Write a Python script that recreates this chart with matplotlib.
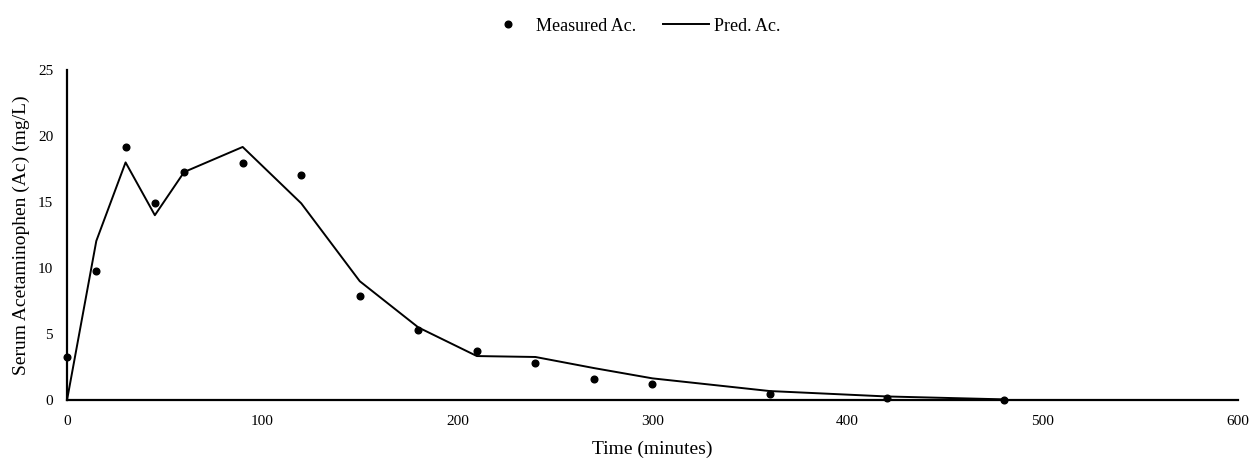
import matplotlib
matplotlib.use("Agg")
import matplotlib.pyplot as plt

time_meas = [0, 15, 30, 45, 60, 90, 120, 150, 180, 210, 240, 270, 300, 360, 420, 480]
ac_meas = [3.26, 9.77, 19.17, 14.9, 17.27, 17.95, 17.05, 7.88, 5.3, 3.7, 2.8, 1.6, 1.2, 0.45, 0.15, 0.0]

time_pred = [0, 15, 30, 45, 60, 90, 120, 150, 180, 210, 240, 270, 300, 360, 420, 480]
ac_pred = [0.0, 12.05, 18.0, 14.0, 17.27, 19.17, 14.9, 9.0, 5.5, 3.33, 3.26, 2.42, 1.64, 0.68, 0.27, 0.05]

x_ticks = [0, 100, 200, 300, 400, 500, 600]
y_ticks = [0, 5, 10, 15, 20, 25]

plt.rcParams['font.family'] = ['Liberation Serif', 'DejaVu Serif']

fig = plt.figure(figsize=(12.53, 4.59), dpi=100)
ax = fig.add_axes([0.0535, 0.1285, 0.9345, 0.719])

ax.plot(time_meas, ac_meas, linestyle='none', marker='o', markersize=4.8,
        color='black', label='Measured Ac.', clip_on=False, zorder=3)
ax.plot(time_pred, ac_pred, color='black', linewidth=1.4, label='Pred. Ac.',
        clip_on=False, zorder=2)

ax.set_xlim(0, 600)
ax.set_ylim(0, 25)
ax.set_xticks(x_ticks)
ax.set_yticks(y_ticks)
ax.tick_params(axis='y', length=0, labelsize=11, pad=10)
ax.tick_params(axis='x', length=0, labelsize=11, pad=11)
for s in ['top', 'right']:
    ax.spines[s].set_visible(False)
for s in ['left', 'bottom']:
    ax.spines[s].set_linewidth(1.6)

ax.set_xlabel('Time (minutes)', fontsize=14, labelpad=9)
ax.set_ylabel('Serum Acetaminophen (Ac) (mg/L)', fontsize=14, labelpad=6)

fig.legend(loc='center', bbox_to_anchor=(0.505, 0.943), ncol=2, frameon=False,
           fontsize=13, handlelength=2.55, handletextpad=0.25, columnspacing=1.5)

fig.savefig('out.png', dpi=100)
